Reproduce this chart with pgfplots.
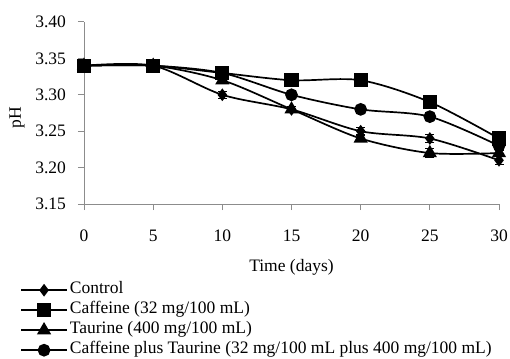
\documentclass[border=0pt]{standalone}
\usepackage{pgfplots}
\pgfplotsset{compat=1.18}
\usepackage{fontspec}
\setmainfont{Liberation Serif}
\begin{document}
\fontsize{17.5}{20}\selectfont
\begin{tikzpicture}
\begin{axis}[
  scale only axis,
  width=415pt, height=182pt,
  xmin=0, xmax=30, ymin=3.15, ymax=3.40,
  xtick={0,5,...,30},
  ytick={3.15,3.20,3.25,3.30,3.35,3.40},
  /pgf/number format/assume math mode=true,
  yticklabel style={xshift=-6pt, /pgf/number format/.cd, fixed, fixed zerofill, precision=2},
  axis lines*=left,
  axis line style={draw=gray!90, line width=1pt},
  every tick/.style={draw=gray!90, line width=1pt},
  tick align=outside,
  major tick length=6pt,
  xticklabel style={yshift=-14pt},
  every axis x label/.style={at={(axis description cs:0.5,-0.346)},anchor=center},
  every axis y label/.style={at={(axis description cs:-0.1614,0.4725)},rotate=90,anchor=center},
  xlabel={Time (days)},
  ylabel={pH},
  clip=false,
  legend cell align=left,
  legend style={draw=none, fill=none, inner sep=0pt, at={(rel axis cs:-0.1542,-0.4176)}, anchor=north west,
    row sep=0pt, nodes={inner ysep=0pt, inner xsep=2pt, text height=13.5pt, text depth=6.5pt, anchor=west}},
  legend image code/.code={\draw[mark repeat=2,mark phase=2,#1] plot coordinates {(0pt,0pt) (23pt,0pt) (46pt,0pt)};},
  every axis plot/.append style={black, line width=1.7pt, smooth, tension=0.5,
    error bars/y dir=both, error bars/y explicit, error bars/error bar style={line width=1.2pt, solid},
    error bars/error mark options={rotate=90, mark size=4.5pt, line width=1.2pt, solid}},
]
\addplot[mark=diamond*, mark size=5pt, mark options={solid, fill=black}] coordinates {
 (0,3.34) +- (0,0.003) (5,3.34) +- (0,0.003) (10,3.30) +- (0,0.005) (15,3.28) +- (0,0.004) (20,3.25) +- (0,0.005) (25,3.24) +- (0,0.005) (30,3.21) +- (0,0.006)};
\addlegendentry{Control}
\addplot[mark=square*, mark size=6.3pt, mark options={solid, fill=black}] coordinates {
 (0,3.34) +- (0,0.003) (5,3.34) +- (0,0.003) (10,3.33) +- (0,0.004) (15,3.32) +- (0,0.003) (20,3.32) +- (0,0.003) (25,3.29) +- (0,0.006) (30,3.24) +- (0,0.008)};
\addlegendentry{Caffeine (32 mg/100 mL)}
\addplot[mark=triangle*, mark size=6.5pt, mark options={solid, fill=black}] coordinates {
 (0,3.34) +- (0,0.003) (5,3.34) +- (0,0.003) (10,3.32) +- (0,0.005) (15,3.28) +- (0,0.004) (20,3.24) +- (0,0.004) (25,3.22) +- (0,0.006) (30,3.22) +- (0,0.004)};
\addlegendentry{Taurine (400 mg/100 mL)}
\addplot[mark=*, mark size=5.5pt, mark options={solid, fill=black}] coordinates {
 (0,3.34) +- (0,0.003) (5,3.34) +- (0,0.003) (10,3.33) +- (0,0.004) (15,3.30) +- (0,0.004) (20,3.28) +- (0,0.003) (25,3.27) +- (0,0.004) (30,3.23) +- (0,0.005)};
\addlegendentry{Caffeine plus Taurine (32 mg/100 mL plus 400 mg/100 mL)}
\end{axis}
\pgfresetboundingbox
\path (-84pt,-154pt) rectangle (426pt,204pt);
\end{tikzpicture}
\end{document}
